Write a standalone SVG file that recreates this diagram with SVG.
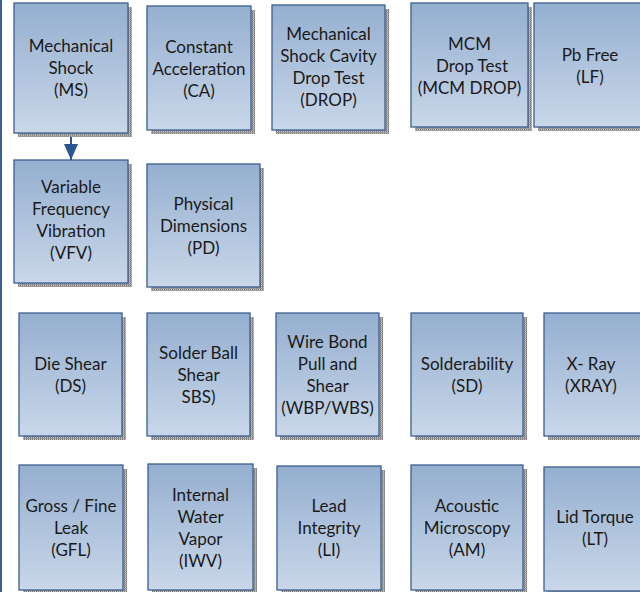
<svg xmlns="http://www.w3.org/2000/svg" width="640" height="592" viewBox="0 0 640 592">
<defs>
<linearGradient id="g" x1="0" y1="0" x2="0" y2="1">
<stop offset="0" stop-color="#95afd0"/>
<stop offset="1" stop-color="#c9d7e9"/>
</linearGradient>
<pattern id="sh" width="2" height="2" patternUnits="userSpaceOnUse">
<rect width="2" height="2" fill="#c4c4c4"/>
<rect width="1" height="2" fill="#7a7a7a"/>
<rect width="2" height="1" fill="#9a9a9a"/>
</pattern>
<marker id="ah" viewBox="0 0 16 14" refX="16" refY="7" markerWidth="16" markerHeight="14" markerUnits="userSpaceOnUse" orient="auto">
<path d="M0,0 L16,7 L0,14 Z" fill="#2b5592"/>
</marker>
</defs>
<style>
.s{fill:url(#sh)}
.b{fill:url(#g);stroke:#3b5f8f;stroke-width:1.3}
text{font-family:Lato,"Open Sans","Liberation Sans",sans-serif;font-size:17px;fill:#1a1a1a;text-anchor:middle}
</style>
<rect x="0" y="0" width="640" height="592" fill="#ffffff"/>
<line x1="1" y1="0" x2="1" y2="592" stroke="#3b5f8f" stroke-width="2"/>
<g id="connectors">
<line x1="71" y1="134" x2="71" y2="160" stroke="#2b5592" stroke-width="2" marker-end="url(#ah)"/>
</g>
<g id="MS"><rect class="s" x="18" y="7" width="114" height="130"/><rect class="b" x="14" y="3" width="114" height="130"/>
<text x="71" y="52">Mechanical</text><text x="71" y="74">Shock</text><text x="71" y="96">(MS)</text></g>
<g id="CA"><rect class="s" x="151" y="10" width="104" height="124"/><rect class="b" x="147" y="6" width="104" height="124"/>
<text x="199" y="53">Constant</text><text x="199" y="75">Acceleration</text><text x="199" y="97">(CA)</text></g>
<g id="DROP"><rect class="s" x="276" y="9" width="113" height="125"/><rect class="b" x="272" y="5" width="113" height="125"/>
<text x="328.5" y="40">Mechanical</text><text x="328.5" y="62">Shock Cavity</text><text x="328.5" y="84">Drop Test</text><text x="328.5" y="106">(DROP)</text></g>
<g id="MCMDROP"><rect class="s" x="415" y="7" width="117" height="124"/><rect class="b" x="411" y="3" width="117" height="124"/>
<text x="469.5" y="50">MCM</text><text x="472" y="72">Drop Test</text><text x="469.5" y="94">(MCM DROP)</text></g>
<g id="LF"><rect class="s" x="538" y="7" width="112" height="124"/><rect class="b" x="534" y="3" width="112" height="124"/>
<text x="590" y="61">Pb Free</text><text x="590" y="83">(LF)</text></g>
<g id="VFV"><rect class="s" x="18" y="164" width="114" height="123"/><rect class="b" x="14" y="160" width="114" height="123"/>
<text x="71" y="193">Variable</text><text x="71" y="215">Frequency</text><text x="71" y="237">Vibration</text><text x="71" y="259">(VFV)</text></g>
<g id="PD"><rect class="s" x="151" y="168" width="113" height="123"/><rect class="b" x="147" y="164" width="113" height="123"/>
<text x="203.5" y="210">Physical</text><text x="203.5" y="232">Dimensions</text><text x="203.5" y="254">(PD)</text></g>
<g id="DS"><rect class="s" x="23" y="317" width="103" height="123"/><rect class="b" x="19" y="313" width="103" height="123"/>
<text x="70.5" y="370">Die Shear</text><text x="70.5" y="392">(DS)</text></g>
<g id="SBS"><rect class="s" x="151" y="317" width="103" height="123"/><rect class="b" x="147" y="313" width="103" height="123"/>
<text x="198.5" y="359">Solder Ball</text><text x="198.5" y="381">Shear</text><text x="198.5" y="403">SBS)</text></g>
<g id="WBP"><rect class="s" x="280" y="317" width="103" height="123"/><rect class="b" x="276" y="313" width="103" height="123"/>
<text x="327.5" y="348">Wire Bond</text><text x="327.5" y="370">Pull and</text><text x="327.5" y="392">Shear</text><text x="327.5" y="414">(WBP/WBS)</text></g>
<g id="SD"><rect class="s" x="415" y="317" width="112" height="123"/><rect class="b" x="411" y="313" width="112" height="123"/>
<text x="467" y="370">Solderability</text><text x="467" y="392">(SD)</text></g>
<g id="XRAY"><rect class="s" x="548" y="317" width="100" height="123"/><rect class="b" x="544" y="313" width="100" height="123"/>
<text x="591" y="370">X- Ray</text><text x="591" y="392">(XRAY)</text></g>
<g id="GFL"><rect class="s" x="23" y="469" width="104" height="125"/><rect class="b" x="19" y="465" width="104" height="125"/>
<text x="71" y="512">Gross / Fine</text><text x="71" y="534">Leak</text><text x="71" y="556">(GFL)</text></g>
<g id="IWV"><rect class="s" x="152" y="468" width="105" height="126"/><rect class="b" x="148" y="464" width="105" height="126"/>
<text x="200.5" y="501">Internal</text><text x="200.5" y="523">Water</text><text x="200.5" y="545">Vapor</text><text x="200.5" y="567">(IWV)</text></g>
<g id="LI"><rect class="s" x="281" y="470" width="104" height="124"/><rect class="b" x="277" y="466" width="104" height="124"/>
<text x="329" y="512">Lead</text><text x="329" y="534">Integrity</text><text x="329" y="556">(LI)</text></g>
<g id="AM"><rect class="s" x="415" y="469" width="112" height="125"/><rect class="b" x="411" y="465" width="112" height="125"/>
<text x="467" y="512">Acoustic</text><text x="467" y="534">Microscopy</text><text x="467" y="556">(AM)</text></g>
<g id="LT"><rect class="s" x="548" y="471" width="102" height="124"/><rect class="b" x="544" y="467" width="102" height="124"/>
<text x="595" y="523">Lid Torque</text><text x="595" y="545">(LT)</text></g>
</svg>
